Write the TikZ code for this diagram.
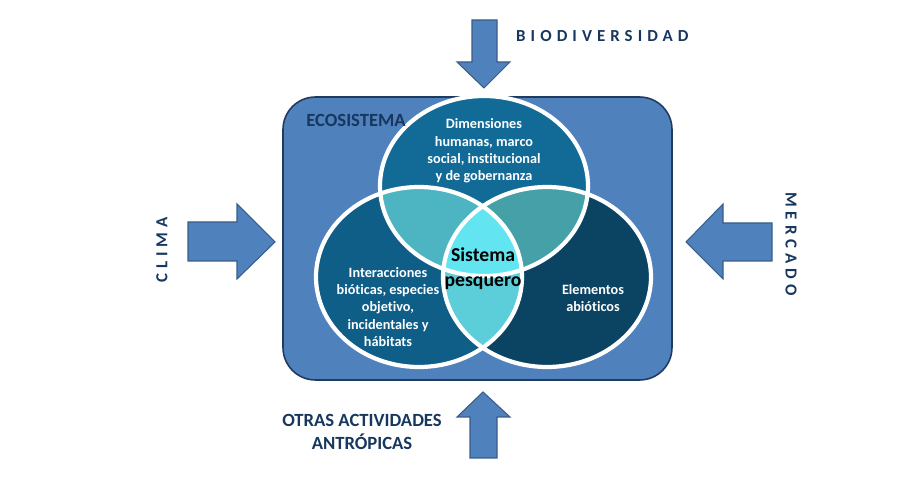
\documentclass[tikz,border=0pt]{standalone}
\usepackage{fontspec}
\setmainfont{Carlito}[Ligatures=NoCommon]
\newfontfamily\espaciada[LetterSpace=30]{Carlito}
\usepackage{xcolor}

\definecolor{azulcaja}{HTML}{4F81BD}
\definecolor{bordecaja}{HTML}{203B5E}
\definecolor{bordeflecha}{HTML}{385D8A}
\definecolor{marino}{HTML}{17375E}
\definecolor{elsup}{HTML}{116B96}
\definecolor{elizq}{HTML}{0E5E88}
\definecolor{elder}{HTML}{0B4463}
\definecolor{lenteizq}{HTML}{4DB4C1}
\definecolor{lenteder}{HTML}{45A0A7}
\definecolor{lenteinf}{HTML}{5BCEDA}
\definecolor{centro}{HTML}{62E4F1}

% elipses del diagrama (coordenadas en px)
\def\pathsup{(484,186) ellipse [x radius=104, y radius=90]}
\def\pathizq{(419,277) ellipse [x radius=103, y radius=90]}
\def\pathder{(547,277) ellipse [x radius=104, y radius=90]}

\begin{document}
\begin{tikzpicture}[
    x=0.02cm, y=-0.02cm,
    flecha/.style={draw=bordeflecha, fill=azulcaja, line width=0.6pt, line join=miter},
    borde/.style={draw=white, line width=2.4pt},
    rotulo/.style={font=\bfseries\fontsize{10.6}{13}\selectfont, text=marino, align=center},
    espaciado/.style={font=\espaciada\bfseries\fontsize{9.6}{11}\selectfont, text=marino},
    blanco/.style={font=\bfseries\fontsize{8.1}{9.9}\selectfont, text=white, align=center}
]
\useasboundingbox (0,0) rectangle (900,482);

% Caja del ecosistema
\draw[bordecaja, fill=azulcaja, line width=0.9pt, rounded corners=0.65cm] (283,97) rectangle (672,380);

% Elipses
\fill[elsup] \pathsup;
\fill[elizq] \pathizq;
\fill[elder] \pathder;

% Intersecciones
\begin{scope}
  \clip \pathsup;
  \fill[lenteizq] \pathizq;
  \fill[lenteder] \pathder;
\end{scope}
\begin{scope}
  \clip \pathizq;
  \fill[lenteinf] \pathder;
  \clip \pathder;
  \fill[centro] \pathsup;
\end{scope}

% Bordes blancos
\draw[borde] \pathsup;
\draw[borde] \pathizq;
\draw[borde] \pathder;

% Textos
\node[rotulo] (ecosistema) at (356,120) {ECOSISTEMA};
\node[blanco] (humano) at (484,151) {Dimensiones\\humanas, marco\\social, institucional\\y de gobernanza};
\node[blanco] (biotico) at (388,307) {Interacciones\\bióticas, especies\\objetivo,\\incidentales y\\hábitats};
\node[blanco] (abiotico) at (593,298) {Elementos\\abióticos};
\node[font=\bfseries\fontsize{11.2}{14.2}\selectfont, align=center] (sistema) at (483,269) {Sistema\\pesquero};

% Flechas de bloque
\draw[flecha] (472,20) -- (497,20) -- (497,62) -- (510,62) -- (484,88) -- (457,62) -- (472,62) -- cycle;
\draw[flecha] (188,222) -- (237,222) -- (237,204) -- (275,242) -- (237,279) -- (237,261) -- (188,261) -- cycle;
\draw[flecha] (772,223) -- (723,223) -- (723,204) -- (686,242) -- (723,279) -- (723,261) -- (772,261) -- cycle;
\draw[flecha] (470,458) -- (470,417) -- (457,417) -- (483,392) -- (510,417) -- (497,417) -- (497,458) -- cycle;

% Factores externos
\node[espaciado, anchor=west] (biodiv) at (510,36) {BIODIVERSIDAD};
\node[espaciado, rotate=90] (clima) at (162,250) {CLIMA};
\node[espaciado, rotate=-90] (mercado) at (791,244) {MERCADO};
\node[rotulo] (otras) at (362,432) {OTRAS ACTIVIDADES\\ANTRÓPICAS};

\end{tikzpicture}
\end{document}
